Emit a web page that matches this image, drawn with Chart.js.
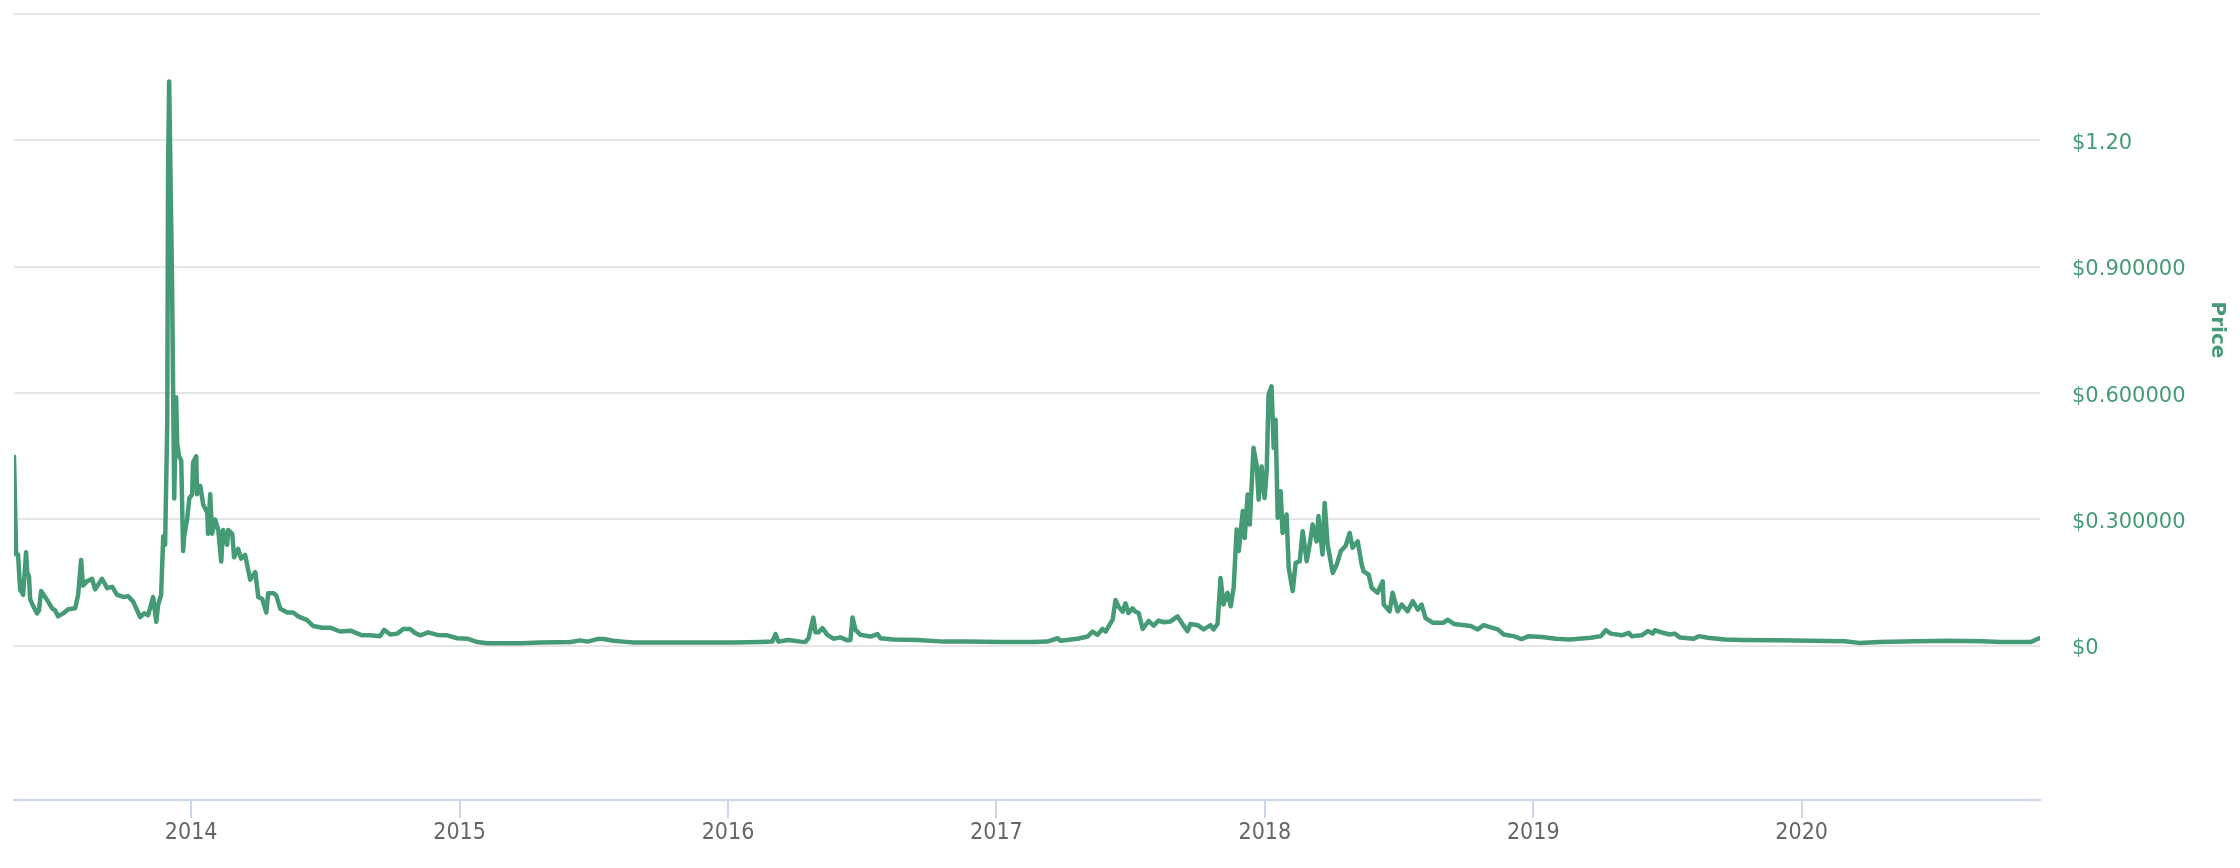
<!DOCTYPE html>
<html>
<head>
<meta charset="utf-8">
<script src="https://cdn.jsdelivr.net/npm/chart.js@4"></script>
<style>
  html, body { margin: 0; padding: 0; background: #fff; }
  canvas { display: block; }
</style>
</head>
<body>
<canvas id="price-chart" width="2240" height="868"></canvas>
<script>
const GREEN = '#459b76';

// dates as decimal years, prices in USD
const dates = [
  2013.340, 2013.348, 2013.355, 2013.363, 2013.370, 2013.374, 2013.385, 2013.389, 2013.396, 2013.400,
  2013.411, 2013.426, 2013.433, 2013.441, 2013.456, 2013.467, 2013.482, 2013.493, 2013.504, 2013.523,
  2013.542, 2013.568, 2013.579, 2013.590, 2013.597, 2013.612, 2013.631, 2013.642, 2013.668, 2013.687,
  2013.706, 2013.724, 2013.747, 2013.765, 2013.784, 2013.799, 2013.810, 2013.825, 2013.840, 2013.858,
  2013.870, 2013.877, 2013.888, 2013.896, 2013.903, 2013.911, 2013.914, 2013.918, 2013.925, 2013.929,
  2013.933, 2013.937, 2013.944, 2013.948, 2013.955, 2013.963, 2013.970, 2013.974, 2013.985, 2013.993,
  2014.004, 2014.007, 2014.019, 2014.022, 2014.034, 2014.045, 2014.060, 2014.063, 2014.071, 2014.078,
  2014.089, 2014.101, 2014.112, 2014.119, 2014.134, 2014.138, 2014.153, 2014.160, 2014.175, 2014.186,
  2014.201, 2014.220, 2014.239, 2014.250, 2014.265, 2014.280, 2014.287, 2014.306, 2014.317, 2014.332,
  2014.358, 2014.380, 2014.399, 2014.432, 2014.455, 2014.488, 2014.518, 2014.555, 2014.593, 2014.637,
  2014.667, 2014.704, 2014.719, 2014.742, 2014.768, 2014.790, 2014.816, 2014.835, 2014.854, 2014.883,
  2014.917, 2014.954, 2014.991, 2015.029, 2015.066, 2015.103, 2015.226, 2015.301, 2015.413, 2015.450,
  2015.476, 2015.513, 2015.536, 2015.573, 2015.610, 2015.647, 2015.774, 2015.897, 2016.020, 2016.121,
  2016.165, 2016.177, 2016.188, 2016.225, 2016.270, 2016.288, 2016.300, 2016.318, 2016.326, 2016.337,
  2016.352, 2016.370, 2016.393, 2016.419, 2016.445, 2016.456, 2016.464, 2016.475, 2016.494, 2016.531,
  2016.557, 2016.568, 2016.617, 2016.706, 2016.803, 2016.892, 2017.015, 2017.138, 2017.190, 2017.228,
  2017.239, 2017.302, 2017.340, 2017.358, 2017.377, 2017.395, 2017.407, 2017.433, 2017.444, 2017.455,
  2017.470, 2017.481, 2017.492, 2017.507, 2017.518, 2017.530, 2017.545, 2017.567, 2017.586, 2017.604,
  2017.623, 2017.649, 2017.675, 2017.694, 2017.712, 2017.723, 2017.750, 2017.772, 2017.798, 2017.809,
  2017.824, 2017.835, 2017.846, 2017.861, 2017.873, 2017.884, 2017.895, 2017.903, 2017.918, 2017.925,
  2017.936, 2017.944, 2017.955, 2017.958, 2017.970, 2017.977, 2017.988, 2017.999, 2018.007, 2018.014,
  2018.025, 2018.033, 2018.040, 2018.048, 2018.059, 2018.066, 2018.081, 2018.089, 2018.104, 2018.115,
  2018.130, 2018.141, 2018.156, 2018.167, 2018.178, 2018.193, 2018.200, 2018.215, 2018.223, 2018.234,
  2018.253, 2018.268, 2018.283, 2018.301, 2018.316, 2018.327, 2018.346, 2018.361, 2018.368, 2018.387,
  2018.398, 2018.420, 2018.439, 2018.443, 2018.465, 2018.476, 2018.495, 2018.510, 2018.532, 2018.551,
  2018.570, 2018.584, 2018.599, 2018.625, 2018.666, 2018.681, 2018.704, 2018.767, 2018.793, 2018.815,
  2018.842, 2018.868, 2018.890, 2018.927, 2018.957, 2018.983, 2019.032, 2019.084, 2019.136, 2019.214,
  2019.252, 2019.270, 2019.289, 2019.330, 2019.356, 2019.367, 2019.404, 2019.427, 2019.445, 2019.453,
  2019.483, 2019.509, 2019.527, 2019.546, 2019.598, 2019.617, 2019.650, 2019.714, 2019.777, 2019.904,
  2020.034, 2020.161, 2020.213, 2020.291, 2020.418, 2020.549, 2020.675, 2020.739, 2020.854, 2020.880,
  2020.888
];

const prices = [
  0.449, 0.217, 0.217, 0.132, 0.127, 0.121, 0.222, 0.175, 0.164, 0.111,
  0.095, 0.077, 0.084, 0.130, 0.116, 0.105, 0.089, 0.084, 0.070, 0.077,
  0.087, 0.089, 0.121, 0.204, 0.143, 0.153, 0.159, 0.134, 0.159, 0.137,
  0.140, 0.121, 0.116, 0.118, 0.105, 0.084, 0.068, 0.077, 0.073, 0.116,
  0.057, 0.098, 0.120, 0.260, 0.240, 0.530, 1.120, 1.340, 1.030, 0.855,
  0.590, 0.350, 0.590, 0.480, 0.450, 0.440, 0.225, 0.260, 0.300, 0.350,
  0.360, 0.435, 0.450, 0.360, 0.380, 0.335, 0.316, 0.266, 0.360, 0.266,
  0.300, 0.275, 0.200, 0.275, 0.240, 0.275, 0.266, 0.210, 0.230, 0.207,
  0.216, 0.157, 0.175, 0.116, 0.111, 0.079, 0.125, 0.125, 0.120, 0.088,
  0.079, 0.079, 0.070, 0.061, 0.047, 0.043, 0.043, 0.034, 0.036, 0.025,
  0.025, 0.023, 0.038, 0.027, 0.029, 0.040, 0.040, 0.030, 0.025, 0.032,
  0.026, 0.025, 0.018, 0.017, 0.009, 0.006, 0.006, 0.008, 0.009, 0.013,
  0.010, 0.016, 0.016, 0.012, 0.010, 0.008, 0.008, 0.008, 0.008, 0.009,
  0.010, 0.028, 0.010, 0.014, 0.010, 0.009, 0.018, 0.067, 0.032, 0.032,
  0.042, 0.026, 0.017, 0.020, 0.013, 0.014, 0.067, 0.038, 0.026, 0.022,
  0.028, 0.018, 0.015, 0.014, 0.010, 0.010, 0.009, 0.009, 0.010, 0.018,
  0.012, 0.017, 0.022, 0.034, 0.026, 0.040, 0.034, 0.062, 0.109, 0.093,
  0.081, 0.101, 0.078, 0.089, 0.081, 0.078, 0.040, 0.059, 0.048, 0.060,
  0.056, 0.058, 0.070, 0.051, 0.035, 0.052, 0.049, 0.039, 0.049, 0.039,
  0.052, 0.161, 0.098, 0.126, 0.094, 0.138, 0.276, 0.225, 0.320, 0.256,
  0.359, 0.288, 0.434, 0.470, 0.426, 0.347, 0.426, 0.351, 0.414, 0.596,
  0.616, 0.470, 0.537, 0.304, 0.367, 0.268, 0.312, 0.185, 0.130, 0.197,
  0.201, 0.272, 0.201, 0.240, 0.288, 0.248, 0.308, 0.217, 0.339, 0.240,
  0.173, 0.193, 0.225, 0.237, 0.268, 0.233, 0.248, 0.193, 0.177, 0.169,
  0.138, 0.126, 0.153, 0.098, 0.082, 0.126, 0.082, 0.098, 0.082, 0.106,
  0.086, 0.098, 0.066, 0.055, 0.055, 0.062, 0.052, 0.047, 0.039, 0.049,
  0.044, 0.039, 0.027, 0.023, 0.016, 0.023, 0.021, 0.017, 0.015, 0.019,
  0.023, 0.037, 0.029, 0.025, 0.031, 0.023, 0.025, 0.035, 0.029, 0.037,
  0.031, 0.027, 0.029, 0.020, 0.017, 0.023, 0.019, 0.015, 0.014, 0.013,
  0.012, 0.011, 0.007, 0.009, 0.011, 0.012, 0.011, 0.009, 0.009, 0.017,
  0.018
];

const xTickYears = [2014, 2015, 2016, 2017, 2018, 2019, 2020];
const yTickValues = [0, 0.3, 0.6, 0.9, 1.2, 1.5];
const yTickLabels = ['$0', '$0.300000', '$0.600000', '$0.900000', '$1.20', ''];

// rotated "Price" title centred on the 0 .. 1.5 band, like the original
const priceTitle = {
  id: 'priceTitle',
  afterDraw(chart) {
    const y = chart.scales.y;
    const ctx = chart.ctx;
    const mid = (y.getPixelForValue(0) + y.getPixelForValue(1.5)) / 2;
    ctx.save();
    ctx.translate(chart.width - 23, mid);
    ctx.rotate(Math.PI / 2);
    ctx.font = 'bold 20px "DejaVu Sans"';
    ctx.fillStyle = GREEN;
    ctx.textAlign = 'center';
    ctx.textBaseline = 'middle';
    ctx.fillText('Price', 0, 0);
    ctx.restore();
  }
};

const ctx = document.getElementById('price-chart').getContext('2d');
new Chart(ctx, {
  type: 'line',
  data: {
    datasets: [{
      data: dates.map((d, i) => ({ x: d, y: prices[i] })),
      borderColor: GREEN,
      borderWidth: 4.5,
      borderJoinStyle: 'round',
      borderCapStyle: 'round',
      pointRadius: 0,
      fill: false,
      tension: 0,
    }]
  },
  options: {
    responsive: false,
    animation: false,
    devicePixelRatio: 1,
    layout: { padding: { left: 14, top: 14, right: 0, bottom: 0 } },
    plugins: {
      legend: { display: false },
      tooltip: { enabled: false },
    },
    scales: {
      x: {
        type: 'linear',
        min: 2013.340,
        max: 2020.888,
        afterBuildTicks: s => { s.ticks = xTickYears.map(v => ({ value: v })); },
        afterFit: s => { s.height = 68; },
        grid: { drawOnChartArea: false, drawTicks: true, tickLength: 18, color: '#ccd6eb', lineWidth: 2 },
        border: { display: true, color: '#ccd6eb', width: 2 },
        ticks: {
          color: '#666666',
          padding: 1,
          maxRotation: 0,
          font: { family: '"DejaVu Sans Condensed", "DejaVu Sans"', size: 23 },
          callback: v => String(v),
        },
      },
      y: {
        position: 'right',
        min: -0.366,
        max: 1.5,
        afterBuildTicks: s => { s.ticks = yTickValues.map(v => ({ value: v })); },
        afterFit: s => { s.width = 200; },
        // invisible tick marks give the gap between the plot and the labels
        grid: { color: '#e6e6e6', lineWidth: 2, drawTicks: true, tickLength: 32, tickColor: 'rgba(0,0,0,0)' },
        border: { display: false },
        ticks: {
          color: GREEN,
          padding: 0,
          labelOffset: 3,
          font: { family: '"DejaVu Sans"', size: 21 },
          callback: v => {
            const i = yTickValues.findIndex(t => Math.abs(t - v) < 1e-9);
            return i >= 0 ? yTickLabels[i] : '';
          },
        },
      },
    },
  },
  plugins: [priceTitle],
});
</script>
</body>
</html>
